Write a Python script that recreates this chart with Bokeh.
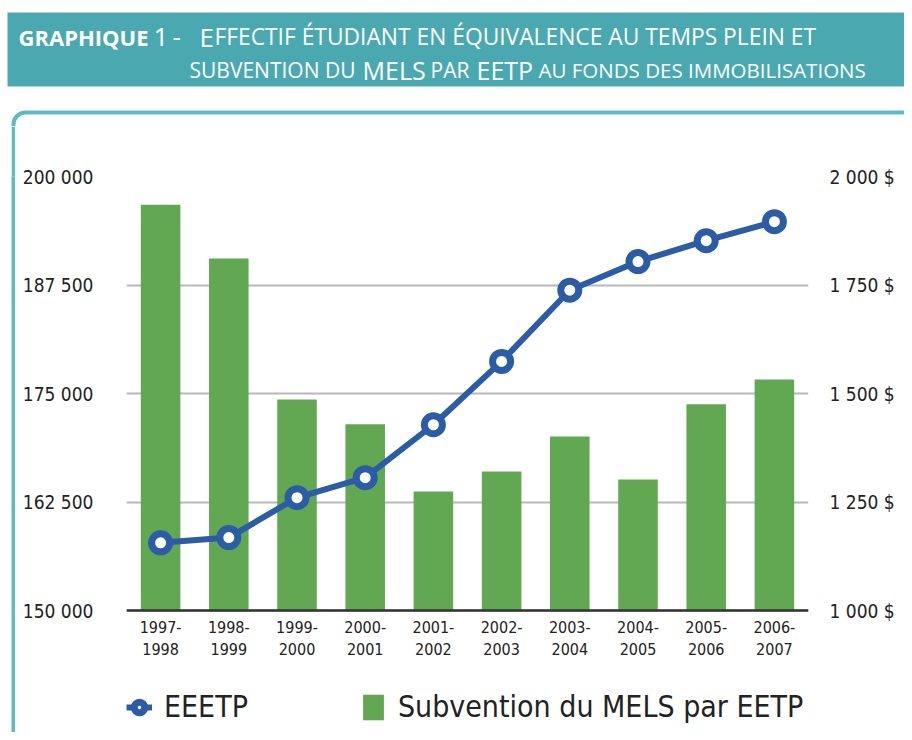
from bokeh.plotting import figure
from bokeh.layouts import column, row
from bokeh.models import (FactorRange, Range1d, LinearAxis, FixedTicker, Label,
                          BoxAnnotation, Legend, LegendItem, Spacer)
from bokeh.embed import file_html
from bokeh.resources import INLINE

# ---------------- data ----------------
periods = ["1997-1998", "1998-1999", "1999-2000", "2000-2001", "2001-2002",
           "2002-2003", "2003-2004", "2004-2005", "2005-2006", "2006-2007"]
eeetp = [157800, 158400, 163000, 165300, 171400, 178700, 186900, 190200, 192600, 194800]
subvention = [1935, 1811, 1486, 1429, 1274, 1320, 1401, 1302, 1475, 1532]
left_ticks = [150000, 162500, 175000, 187500, 200000]
left_tick_labels = ["150 000", "162 500", "175 000", "187 500", "200 000"]
right_ticks = [1000, 1250, 1500, 1750, 2000]
right_tick_labels = ["1 000 $", "1 250 $", "1 500 $", "1 750 $", "2 000 $"]
series_names = ["EEETP", "Subvention du MELS par EETP"]

# ---------------- styles / layout ----------------
FONT = "DejaVu Sans Condensed"
TFONT = "Open Sans"
GREEN = "#62a853"
BLUE = "#2b5ca5"
TEAL = "#4aa9b0"
TEAL2 = "#5cbcc2"
TXT = "#222222"

W, H = 904, 732
TOP_H = 126          # height of the title strip
BORDER_X, BORDER_W = 11, 4   # left teal border of the panel
MAIN_X = BORDER_X + BORDER_W
MAIN_W, MAIN_H = W - MAIN_X, H - TOP_H
FL, FR, FT, AXIS_Y = 126, 808, 176, 610   # frame left/right/top, x-axis line (page px)

common_fig = dict(output_backend="svg", toolbar_location=None,
                  background_fill_color="white", border_fill_color="white",
                  outline_line_color=None)

# ---------- title strip ----------
tf = figure(width=W, height=TOP_H, x_range=Range1d(0, W), y_range=Range1d(TOP_H, 0),
            min_border=0, x_axis_location=None, y_axis_location=None, **common_fig)
tf.grid.visible = False
tf.add_layout(BoxAnnotation(left=7, right=W + 20, top=12, bottom=86,
                            fill_color=TEAL, fill_alpha=1, line_alpha=0))
tf.add_layout(BoxAnnotation(left=BORDER_X + BORDER_W / 2, right=W + 40, top=112,
                            bottom=TOP_H + 60, fill_alpha=0, line_color=TEAL2,
                            line_alpha=1, line_width=BORDER_W, border_radius=12))
segments = [
    ("GRAPHIQUE", 18, 36, "22px", "bold"),
    ("1", 153, 36, "26px", "normal"),
    ("-", 172, 36, "26px", "normal"),
    ("E", 199, 36, "26px", "normal"),
    ("FFECTIF ÉTUDIANT EN ÉQUIVALENCE AU TEMPS PLEIN ET", 214, 36, "22.8px", "normal"),
    ("SUBVENTION DU", 189, 69, "21px", "normal"),
    ("MELS", 362, 69, "25px", "normal"),
    ("PAR", 430, 69, "21px", "normal"),
    ("EETP", 476, 69, "25px", "normal"),
    ("AU FONDS DES IMMOBILISATIONS", 538, 69, "20.5px", "normal"),
]
for txt, x, y, size, style in segments:
    tf.add_layout(Label(x=x, y=y, text=txt,
                        text_font=TFONT, text_font_size=size, text_font_style=style,
                        text_color="white", text_baseline="alphabetic",
                        text_align="left"))

# ---------- left border of the panel ----------
sf = figure(width=BORDER_W, height=MAIN_H, x_range=Range1d(0, 1), y_range=Range1d(0, 1),
            min_border=0, x_axis_location=None, y_axis_location=None,
            output_backend="svg", toolbar_location=None,
            background_fill_color=TEAL2, border_fill_color=TEAL2,
            outline_line_color=None)
sf.grid.visible = False

# ---------- main chart ----------
period_labels = [s.replace("-", "-\n") for s in periods]

# the frame reaches the bottom of the page so the legend (drawn inside the
# frame, below the fixed x axis) is not clipped
frame_px = AXIS_Y - FT
extra_px = H - AXIS_Y
l_span = left_ticks[-1] - left_ticks[0]
r_span = right_ticks[-1] - right_ticks[0]
y_start = left_ticks[0] - extra_px * l_span / frame_px
r_start = right_ticks[0] - extra_px * r_span / frame_px

p = figure(width=MAIN_W, height=MAIN_H,
           x_range=FactorRange(factors=period_labels),
           y_range=Range1d(y_start, left_ticks[-1]),
           min_border_left=FL - MAIN_X, min_border_right=W - FR,
           min_border_top=FT - TOP_H, min_border_bottom=0,
           **common_fig)
p.extra_y_ranges = {"money": Range1d(r_start, right_ticks[-1])}

bars = p.vbar(x=period_labels, top=subvention, bottom=right_ticks[0], width=0.58,
              y_range_name="money", fill_color=GREEN, line_color=None)
ln = p.line(period_labels, eeetp, line_width=6, line_color=BLUE)
pts = p.scatter(period_labels, eeetp, size=18, fill_color="white",
                line_color=BLUE, line_width=7)

p.xgrid.visible = False
p.ygrid.grid_line_color = "#b8b8b8"
p.ygrid.grid_line_width = 2

xa = p.xaxis[0]
xa.fixed_location = left_ticks[0]
xa.axis_line_color = "#333333"
xa.axis_line_width = 2.5
xa.major_tick_line_color = None
xa.minor_tick_line_color = None
xa.major_label_text_font = FONT
xa.major_label_text_font_size = "16px"
xa.major_label_text_color = TXT
xa.major_label_standoff = 1

ya = p.yaxis[0]
ya.ticker = FixedTicker(ticks=left_ticks)
ya.major_label_overrides = dict(zip(left_ticks, left_tick_labels))
ya.axis_line_color = None
ya.major_tick_line_color = None
ya.minor_tick_line_color = None
ya.major_tick_in = 0
ya.major_tick_out = 0
ya.major_label_standoff = 33
ya.major_label_text_font = FONT
ya.major_label_text_font_size = "19px"
ya.major_label_text_color = TXT

ra = LinearAxis(y_range_name="money", ticker=FixedTicker(ticks=right_ticks),
                major_label_overrides=dict(zip(right_ticks, right_tick_labels)))
ra.axis_line_color = None
ra.major_tick_line_color = None
ra.minor_tick_line_color = None
ra.major_tick_in = 0
ra.major_tick_out = 0
ra.major_label_standoff = 21
ra.major_label_text_font = FONT
ra.major_label_text_font_size = "19px"
ra.major_label_text_color = TXT
p.add_layout(ra, "right")

legend = Legend(items=[LegendItem(label=series_names[0], renderers=[ln, pts]),
                       LegendItem(label=series_names[1], renderers=[bars])],
                location=(0, 8), orientation="horizontal",
                glyph_width=26, glyph_height=32, label_standoff=12, spacing=112,
                padding=0, margin=0, border_line_alpha=0,
                background_fill_alpha=0, label_text_font=FONT,
                label_text_font_size="30px", label_text_color=TXT)
p.add_layout(legend)

layout = column(tf, row(Spacer(width=BORDER_X, height=MAIN_H), sf, p))
open("out.html", "w").write(file_html(layout, INLINE))
